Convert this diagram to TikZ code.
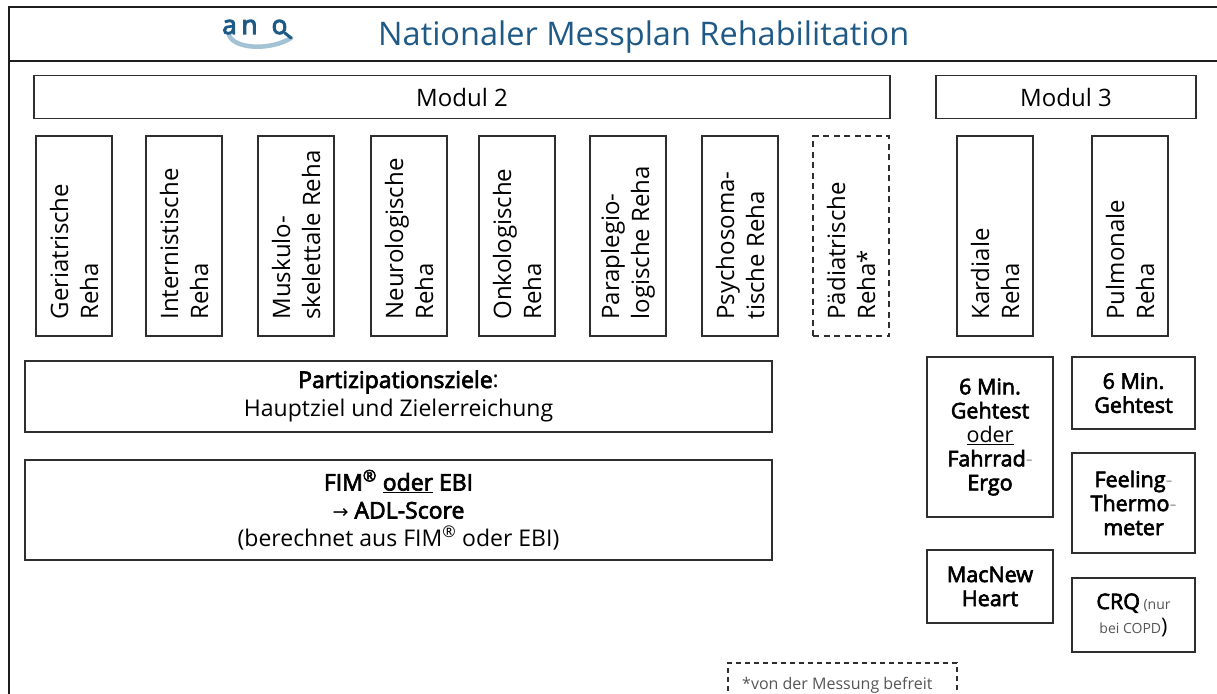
\documentclass[tikz,border=0pt]{standalone}
\usepackage{fontspec}
\setmainfont{Open Sans}
\newfontfamily\arrowfont{DejaVu Sans}
\newfontfamily\sbfamily[FakeBold=3]{Open Sans}
\newfontfamily\logofamily[FakeBold=4]{Open Sans}
\newcommand{\sbtext}[1]{{\sbfamily #1}}
\usetikzlibrary{calc}
\definecolor{anoblue}{HTML}{1F5A87}
\definecolor{anolight}{HTML}{A3C2D4}
\definecolor{framegray}{HTML}{1E1E1E}
\definecolor{boxgray}{HTML}{2E2E2E}
\definecolor{hyph}{HTML}{A8A8A8}
\definecolor{smallgray}{HTML}{555555}
\newcommand{\gh}{{\color{hyph}-}}
\begin{document}
\begin{tikzpicture}[x=1pt,y=-1pt,
  frameline/.style={line width=2.4pt, draw=framegray},
  hbox/.style={draw=boxgray, line width=1.3pt, inner sep=0pt, align=center},
  vbox/.style={draw=boxgray, line width=1.3pt, minimum width=76pt, minimum height=200pt, inner sep=0pt},
  vdash/.style={vbox, dash pattern=on 6pt off 4.5pt},
  vtext/.style={rotate=90, anchor=west, align=left, inner sep=0pt, font=\fontsize{24}{30}\selectfont},
  modtext/.style={font=\fontsize{24}{30}\selectfont},
  bottext/.style={font=\fontsize{23}{29}\selectfont},
  rtext/.style={font=\fontsize{21.5}{24}\selectfont},
  logo/.style={font=\logofamily\fontsize{26}{26}\selectfont, text=anoblue, inner sep=0pt}
]
\useasboundingbox (0,0) rectangle (1217,693);
\fill[white] (0,0) rectangle (1217,693);
\begin{scope}
\clip (0,0) rectangle (1217,693);
% frame
\coordinate (ftl) at (9,7);
\coordinate (ftr) at (1220,7);
\coordinate (fbl) at (9,700);
\coordinate (fml) at (9,61);
\coordinate (fmr) at (1220,61);
\draw[frameline] (fbl) -- (ftl) -- (ftr);
\draw[frameline] (fml) -- (fmr);

% logo
\draw[anolight, line width=4.5pt, line cap=round] (229,35) .. controls (234,49) and (270,51) .. (291,38);
\node[logo, anchor=base] (la) at (229.5,34) {a};
\node[logo, anchor=base] (ln) at (249.5,34) {n};
\node[logo, anchor=base] (lo) at (279.5,34) {o};
\draw[anoblue, line width=3pt, line cap=round] (285,33) -- (291,38);

% title
\node[anchor=base west, inner sep=0pt, text=anoblue, font=\fontsize{32.5}{34}\selectfont] (title) at (378,46) {Nationaler Messplan Rehabilitation};

% modules
\node[hbox, minimum width=856pt, minimum height=43pt, modtext] (mod2) at (462,97) {Modul 2};
\node[hbox, minimum width=260pt, minimum height=43pt, modtext] (mod3) at (1066,97) {Modul 3};

% vertical boxes
\foreach \nm/\cx/\st/\txt in {
  ger/74/vbox/{Geriatrische\\Reha},
  int/184/vbox/{Internistische\\Reha},
  mus/296/vbox/{Muskulo-\\skelettale Reha},
  neu/409/vbox/{Neurologische\\Reha},
  onk/517/vbox/{Onkologische\\Reha},
  par/628/vbox/{Paraplegio-\\logische Reha},
  psy/740/vbox/{Psychosoma-\\tische Reha},
  pae/851/vdash/{Pädiatrische\\Reha*},
  kar/995/vbox/{Kardiale\\Reha},
  pul/1130/vbox/{Pulmonale\\Reha}}{
  \node[\st] (\nm) at (\cx,236) {};
  \node[vtext] (\nm t) at ([yshift=17pt]\nm.south) {\txt};
}

% bottom left boxes
\node[hbox, minimum width=747pt, minimum height=71pt, bottext] (parti) at (398.5,396.5)
  {\sbtext{Partizipationsziele}:\\Hauptziel und Zielerreichung};
\node[hbox, minimum width=747pt, minimum height=100pt, bottext] (fim) at (398.5,510)
  {\sbtext{FIM\textsuperscript{®} \underline{oder} EBI}\\[-1pt]
   {\arrowfont\fontsize{19}{19}\selectfont→} \sbtext{ADL-Score}\\[-1pt]
   (berechnet aus FIM\textsuperscript{®} oder EBI)};

% right column boxes
\node[hbox, minimum width=126pt, minimum height=160pt, rtext] (kgeh) at (990,437)
  {\sbtext{6 Min.}\\\sbtext{Gehtest}\\\underline{oder}\\\sbtext{Fahrrad}\gh\\\sbtext{Ergo}};
\node[hbox, minimum width=123pt, minimum height=72pt, rtext] (pgeh) at (1133.5,393)
  {\sbtext{6 Min.}\\\sbtext{Gehtest}};
\node[hbox, minimum width=123pt, minimum height=100pt, rtext] (feel) at (1133.5,503)
  {\sbtext{Feeling}\gh\\\sbtext{Thermo}\gh\\\sbtext{meter}};
\node[hbox, minimum width=126pt, minimum height=73pt, rtext] (mac) at (990,586.5)
  {\sbtext{MacNew}\\\sbtext{Heart}};
\node[hbox, minimum width=123pt, minimum height=74pt, rtext] (crq) at (1133.5,615)
  {\sbtext{CRQ}\,{\color{smallgray}\fontsize{14}{24}\selectfont(nur}\\{\color{smallgray}\fontsize{14}{24}\selectfont bei COPD})};

% footnote
\node[draw=boxgray, line width=1.1pt, dash pattern=on 5pt off 4pt, minimum width=229pt, minimum height=50pt, inner sep=0pt] (fnbox) at (842.5,688) {};
\node[anchor=base west, inner sep=0pt, text=smallgray, font=\fontsize{16}{18}\selectfont] (fntext) at (742,689) {*von der Messung befreit};
\end{scope}
\end{tikzpicture}
\end{document}
